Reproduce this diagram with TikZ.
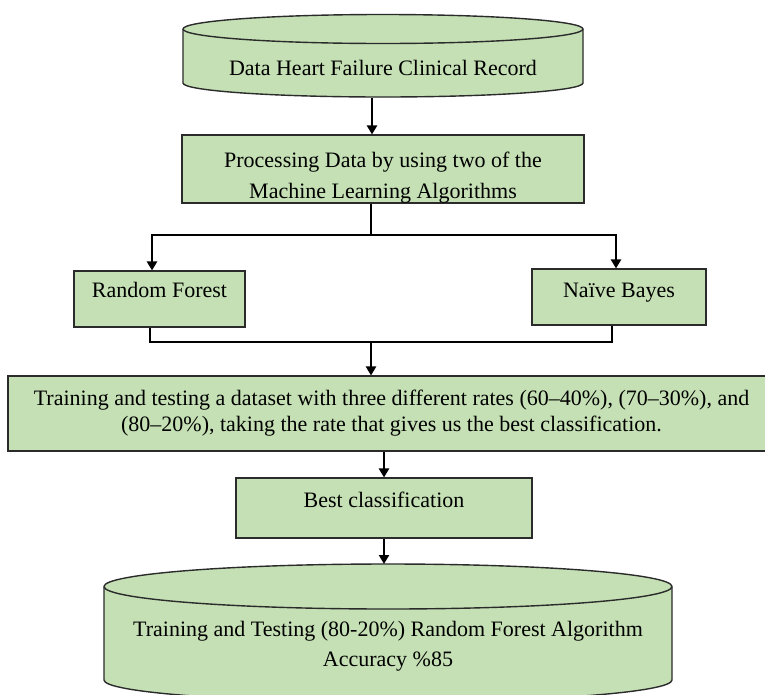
\documentclass[tikz,border=0pt]{standalone}
\usepackage{fontspec}
\setmainfont{Liberation Serif}
\usetikzlibrary{arrows.meta}
\definecolor{boxfill}{HTML}{C5E0B4}
\definecolor{edge}{HTML}{2B2B2B}
\begin{document}
\begin{tikzpicture}[x=1pt,y=-1pt,
  txt/.style={font=\fontsize{22}{26}\selectfont},
  box/.style={draw=edge, line width=1.1pt, fill=boxfill, inner sep=0pt, txt},
  cyl/.style={draw=edge, line width=1.4pt, fill=boxfill},
  arr/.style={line width=2.6pt, -{Triangle[length=9pt,width=10pt]}},
  ln/.style={line width=2.6pt},
]
\useasboundingbox (0,0) rectangle (765,694);
\fill[white] (0,0) rectangle (765,694);

% ---- top cylinder
\draw[cyl] (183,29) -- (183,83) arc[start angle=180,end angle=360,x radius=200pt,y radius=14pt]
  -- (583,29) arc[start angle=0,end angle=180,x radius=200pt,y radius=14.5pt] -- cycle;
\draw[draw=edge, line width=1.4pt] (183,29) arc[start angle=180,end angle=360,x radius=200pt,y radius=14.5pt];
\node[txt, anchor=base] (db) at (383,75) {Data Heart Failure Clinical Record};
\coordinate (dbb) at (372,97.5);

% ---- processing
\node[box, minimum width=402pt, minimum height=68pt, align=center, font=\fontsize{22}{31}\selectfont]
  (proc) at (383,169) {\rule{0pt}{32pt}Processing Data by using two of the\\Machine Learning Algorithms\rule[-5pt]{0pt}{5pt}};

% ---- two algorithms
\node[box, minimum width=171pt, minimum height=56pt, text height=14pt, text depth=18pt] (rf) at (159.5,299) {Random Forest};
\node[box, minimum width=174pt, minimum height=56pt, text height=15pt, text depth=15pt] (nb) at (619,297) {Naïve Bayes};

% ---- training
\node[box, minimum width=767pt, minimum height=75pt, align=center]
  (train) at (391.5,413.5) {\rule{0pt}{29pt}Training and testing a dataset with three different rates (60--40\%), (70--30\%), and\\(80--20\%), taking the rate that gives us the best classification.\rule[-20pt]{0pt}{20pt}};

% ---- best
\node[box, minimum width=296pt, minimum height=60pt, text height=15pt, text depth=17pt] (best) at (384,508) {Best classification};

% ---- bottom cylinder
\draw[cyl] (104,586.5) -- (104,680) arc[start angle=180,end angle=360,x radius=284pt,y radius=22pt]
  -- (672,586.5) arc[start angle=0,end angle=180,x radius=284pt,y radius=22.5pt] -- cycle;
\draw[draw=edge, line width=1.4pt] (104,586.5) arc[start angle=180,end angle=360,x radius=284pt,y radius=22.5pt];
\node[txt, align=center, font=\fontsize{22}{30}\selectfont] (res) at (388,646) {Training and Testing (80-20\%) Random Forest Algorithm\\Accuracy \%85};
\coordinate (rest) at (384,564);

% ---- connectors
\coordinate (j1) at (371,235);
\coordinate (j2) at (371,342);
\draw[arr] (dbb) -- (dbb |- proc.north);
\draw[ln] (proc.south -| j1) -- (j1);
\draw[arr] (j1) -| ([xshift=-7.5pt]rf.north);
\draw[arr] (j1) -| ([xshift=-3pt]nb.north);
\draw[ln] ([xshift=-9.5pt]rf.south) |- (j2);
\draw[ln] ([xshift=-7pt]nb.south) |- (j2);
\draw[arr] (j2) -- (j2 |- train.north);
\draw[arr] (best.north |- train.south) -- (best.north);
\draw[arr] (best.south) -- (best.south |- rest);
\end{tikzpicture}
\end{document}
